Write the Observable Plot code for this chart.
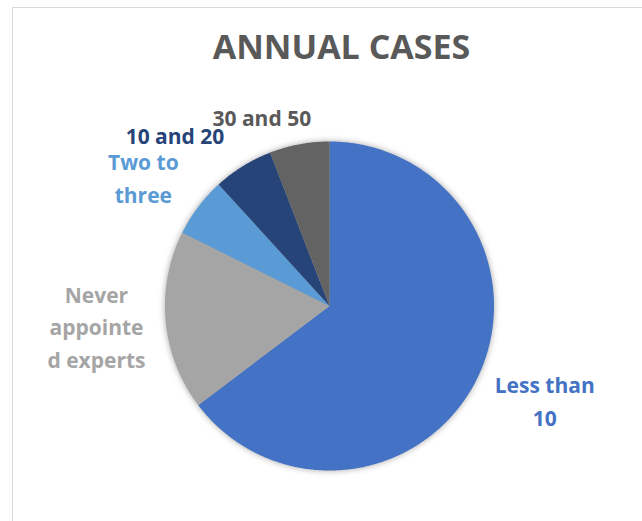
<!DOCTYPE html>
<html>
<head>
<meta charset="utf-8">
<script src="https://cdn.jsdelivr.net/npm/d3@7"></script>
<script src="https://cdn.jsdelivr.net/npm/@observablehq/plot@0.6"></script>
<style>
  body { margin: 0; background: #fff; }
  #wrap { position: relative; width: 642px; height: 521px; overflow: hidden; }
  #border { position: absolute; left: 12px; top: 7px; width: 700px; height: 600px; border: 1.5px solid #d9d9d9; box-sizing: border-box; }
  #chart { position: absolute; left: 0; top: 0; }
</style>
</head>
<body>
<div id="wrap"><div id="border"></div><div id="chart"></div></div>
<script>
const title = "ANNUAL CASES";
const categories = ["Less than 10", "Never appointed experts", "Two to three", "10 and 20", "30 and 50"];
const values = [11, 3, 1, 1, 1];
const labelTexts = ["Less than\n10", "Never\nappointe\nd experts", "Two to\nthree", "10 and 20", "30 and 50"];

// styling / layout (kept apart from the data)
const colors = ["#4472C4", "#A5A5A5", "#5B9BD5", "#264478", "#636363"];
const labelColors = ["#4472C4", "#A5A5A5", "#5B9BD5", "#264478", "#595959"];
const labelOffsets = [[12, -8], [-7, -2], [-5, 7], [-35, 21], [-26, 33]];
const labelRadius = 1.38;

const arcs = d3.pie().sort(null)(values);
const slices = [];
arcs.forEach((a, i) => {
  const cat = categories[i];
  slices.push({cat, x: 0, y: 0});
  const n = Math.max(2, Math.ceil((a.endAngle - a.startAngle) / (Math.PI / 360)));
  for (let k = 0; k <= n; k++) {
    const t = a.startAngle + (a.endAngle - a.startAngle) * k / n;
    slices.push({cat, x: Math.sin(t), y: Math.cos(t)});
  }
});
const labels = arcs.map((a, i) => {
  const m = (a.startAngle + a.endAngle) / 2;
  return {cat: categories[i], text: labelTexts[i], x: labelRadius * Math.sin(m), y: labelRadius * Math.cos(m), i};
});

const marks = [
  Plot.line(slices, {x: "x", y: "y", z: "cat", fill: "cat", stroke: "none", curve: "linear-closed"}),
  Plot.text([title], {text: d => d, frameAnchor: "top", lineAnchor: "middle", dx: 20, dy: 48,
    fontSize: 34, fontWeight: "bold", fill: "#595959", fontFamily: "Open Sans", style: "letter-spacing:1.8px"})
];
labels.forEach(l => {
  marks.push(Plot.text([l], {x: "x", y: "y", text: "text", fill: labelColors[l.i],
    dx: labelOffsets[l.i][0], dy: labelOffsets[l.i][1], fontSize: 21, fontWeight: "bold",
    fontFamily: "Open Sans", lineHeight: 1.55, lineAnchor: "middle", textAnchor: "middle"}));
});

const chart = Plot.plot({
  width: 642, height: 521,
  margin: 0,
  x: {domain: [-1, 1], range: [164.5, 493.5], axis: null},
  y: {domain: [-1, 1], range: [470, 141], axis: null},
  color: {domain: categories, range: colors},
  style: {background: "transparent", fontFamily: "Open Sans"},
  marks
});
d3.select(chart).select("g[aria-label=line]").style("filter", "drop-shadow(0px 0px 3px rgba(0,0,0,0.35))");
document.getElementById("chart").append(chart);
</script>
</body>
</html>
